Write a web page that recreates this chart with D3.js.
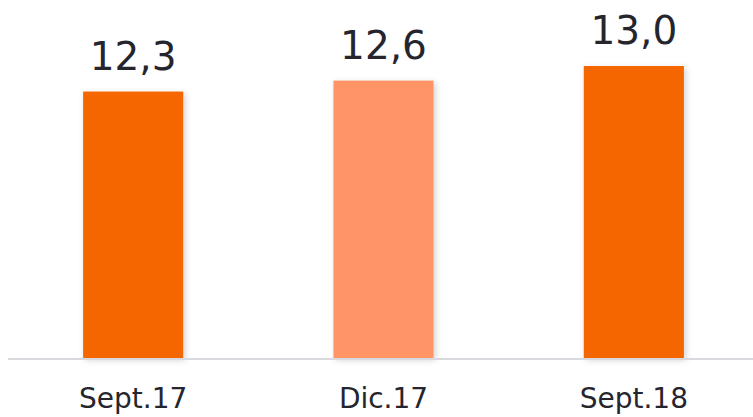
<!DOCTYPE html>
<html>
<head>
<meta charset="utf-8">
<script src="https://cdn.jsdelivr.net/npm/d3@7"></script>
<style>
  body { margin: 0; background: #fff; }
  text { font-family: "DejaVu Sans", sans-serif; fill: #25252d; }
</style>
</head>
<body>
<div id="chart"></div>
<script>
var width = 753,
    height = 417;

var categories = ["Sept.17", "Dic.17", "Sept.18"];
var values = [12.3, 12.6, 13.0];
var labels = ["12,3", "12,6", "13,0"];
var colors = ["#f56600", "#ff9466", "#f56600"];

var svg = d3.select("#chart").append("svg")
    .attr("width", width)
    .attr("height", height);

// soft shadow under the bars
var defs = svg.append("defs");
defs.append("filter")
    .attr("id", "shadow")
    .attr("x", "-10%").attr("y", "-10%")
    .attr("width", "130%").attr("height", "130%")
  .append("feDropShadow")
    .attr("dx", 2).attr("dy", 2)
    .attr("stdDeviation", 3)
    .attr("flood-color", "#000")
    .attr("flood-opacity", 0.18);

var x = d3.scaleBand()
    .domain(categories)
    .range([8, 759])
    .paddingInner(0.6)
    .paddingOuter(0.3);

var y = d3.scaleLinear()
    .domain([5, 13])
    .range([358, 66]);

var g = svg.append("g");

g.selectAll("rect.bar")
    .data(values)
  .enter().append("rect")
    .attr("class", "bar")
    .attr("x", function(d, i) { return x(categories[i]); })
    .attr("y", function(d) { return y(d); })
    .attr("width", x.bandwidth())
    .attr("height", function(d) { return y(5) - y(d); })
    .attr("fill", function(d, i) { return colors[i]; })
    .attr("filter", "url(#shadow)");

// baseline
g.append("line")
    .attr("x1", 8).attr("x2", width)
    .attr("y1", y(5) + 1).attr("y2", y(5) + 1)
    .attr("stroke", "#d9d9e0")
    .attr("stroke-width", 2);

g.selectAll("text.value")
    .data(values)
  .enter().append("text")
    .attr("class", "value")
    .attr("x", function(d, i) { return x(categories[i]) + x.bandwidth() / 2; })
    .attr("y", function(d) { return y(d) - 22; })
    .attr("text-anchor", "middle")
    .style("font-size", "39px")
    .text(function(d, i) { return labels[i]; });

var xAxis = svg.append("g")
    .attr("transform", "translate(0," + (y(5) + 1) + ")")
    .call(d3.axisBottom(x).tickSize(0).tickPadding(0));

xAxis.select(".domain").remove();
xAxis.selectAll("text")
    .attr("dy", null)
    .attr("y", 49)
    .style("font-size", "28px")
    .style("font-family", "'DejaVu Sans', sans-serif")
    .attr("fill", "#25252d");
</script>
</body>
</html>
